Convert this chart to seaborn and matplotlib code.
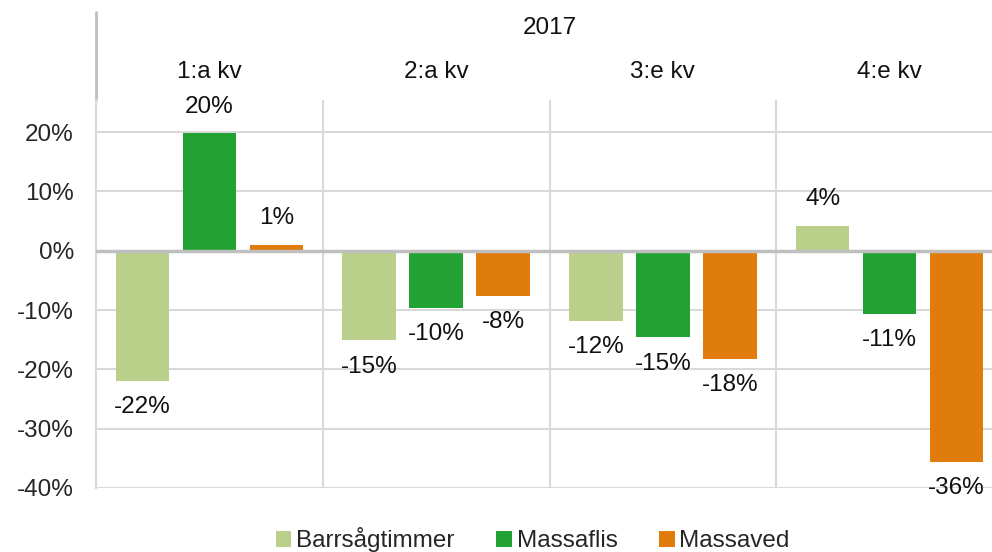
import pandas as pd
import seaborn as sns
import matplotlib.pyplot as plt
from matplotlib.transforms import blended_transform_factory

sns.set_theme(style="white")
plt.rcParams["font.family"] = ["Liberation Sans", "DejaVu Sans"]

# data (percent change)
quarters = ["1:a kv", "2:a kv", "3:e kv", "4:e kv"]
series = ["Barrsågtimmer", "Massaflis", "Massaved"]
barrsagtimmer = [-22.0, -15.1, -11.8, 4.2]
massaflis = [19.8, -9.6, -14.6, -10.6]
massaved = [1.0, -7.6, -18.2, -35.6]
year_label = "2017"
colors = ["#B9CF8A", "#21A232", "#E07C0B"]

df = pd.DataFrame({
    "kvartal": quarters * 3,
    "serie": [s for s in series for _ in quarters],
    "value": barrsagtimmer + massaflis + massaved,
})

FS = 17.5

fig = plt.figure(figsize=(9.92, 5.52), dpi=100)
ax = fig.add_axes([96 / 992, 1 - 488 / 552, 907 / 992, 388 / 552])

sns.barplot(
    data=df, x="kvartal", y="value", hue="serie",
    palette=colors, saturation=1, width=0.885, gap=0.2,
    linewidth=0, ax=ax,
)

ax.set_ylim(-40, 25.4)
ax.set_xlim(-0.5, 3.5)
ax.set_yticks(range(-40, 21, 10))
ax.set_yticklabels([f"{t}%" for t in range(-40, 21, 10)], fontsize=FS)
ax.tick_params(axis="y", length=0, pad=16)
ax.set_xticks([])
ax.set_xlabel("")
ax.set_ylabel("")

# grid
for t in range(-40, 21, 10):
    if t != 0:
        ax.axhline(t, color="#D9D9D9", lw=1.5, zorder=0)
ax.axhline(0, color="#BFBFBF", lw=2.5, zorder=3)
for xb in [0.5, 1.5, 2.5]:
    ax.axvline(xb, color="#D9D9D9", lw=1.5, zorder=0)

for s in ["top", "right", "bottom"]:
    ax.spines[s].set_visible(False)
ax.spines["left"].set_color("#D9D9D9")
ax.spines["left"].set_linewidth(1.5)

# data labels
for c in ax.containers:
    ax.bar_label(c, labels=[f"{v:.0f}%" for v in c.datavalues],
                 padding=11, fontsize=FS, color="#111111")

# header with year and quarters
trans = blended_transform_factory(ax.transData, ax.transAxes)
ax.text(1.5, 1.186, year_label, transform=trans, ha="center", va="center",
        fontsize=FS, color="#111111")
for i, q in enumerate(quarters):
    ax.text(i, 1.072, q, transform=trans, ha="center", va="center",
            fontsize=FS, color="#111111")
ax.plot([-0.5, -0.5], [1.0, 1.227], transform=trans, color="#BFBFBF",
        lw=2, clip_on=False)

handles, labels = ax.get_legend_handles_labels()
ax.get_legend().remove()
fig.legend(handles, labels, loc="center", bbox_to_anchor=(0.537, 0.022),
           ncol=3, frameon=False, fontsize=FS, handlelength=0.65,
           handleheight=0.65, handletextpad=0.2, columnspacing=1.7)

fig.savefig("out.png", dpi=100)
